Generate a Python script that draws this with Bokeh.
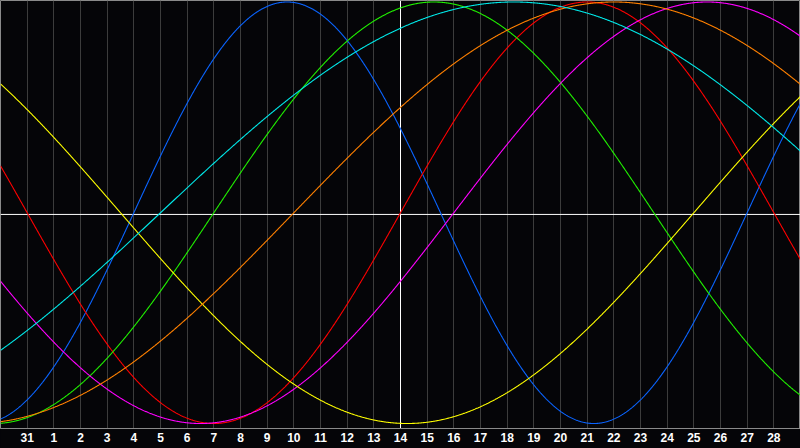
import numpy as np
from bokeh.plotting import figure
from bokeh.models import Range1d, FixedTicker, Span
from bokeh.embed import file_html
from bokeh.resources import INLINE

# Day labels along the bottom (positions 1..29 of a 30-day window)
day_labels = ["31", "1", "2", "3", "4", "5", "6", "7", "8", "9", "10", "11", "12", "13",
              "14", "15", "16", "17", "18", "19", "20", "21", "22", "23", "24", "25",
              "26", "27", "28"]
today_index = 15  # day 14 (white vertical line)

# Biorhythm cycles: period (days) and day index of upward zero crossing
cycle_names = ["Physical", "Emotional", "Intellectual", "Intuitive", "Aesthetic", "Awareness", "Spiritual"]
cycle_periods = [23, 28, 33, 38, 43, 48, 53]
cycle_zero_days = [5, 15, 8, 17, 26, 11, 6]
cycle_colors = ["#0a64ff", "#ff0000", "#20f000", "#ff00ff", "#ffff00", "#ff8000", "#00e8e8"]

n_days = len(day_labels) + 1
d = np.linspace(0, n_days, 1501)

p = figure(width=800, height=448,
           x_range=Range1d(0, n_days), y_range=Range1d(-1.0237, 1.0071),
           output_backend="svg", toolbar_location=None,
           min_border_left=0, min_border_right=0, min_border_top=0, min_border_bottom=20,
           background_fill_color="#050508", border_fill_color="#050508",
           outline_line_color="#8a8a8a", outline_line_width=1,
           y_axis_location=None)

ticks = list(range(1, n_days))
p.xaxis.ticker = FixedTicker(ticks=ticks)
p.xaxis.major_label_overrides = {t: lab for t, lab in zip(ticks, day_labels)}
p.xaxis.major_tick_line_color = None
p.xaxis.minor_tick_line_color = None
p.xaxis.major_tick_in = 0
p.xaxis.major_tick_out = 0
p.xaxis.axis_line_color = "#8a8a8a"
p.xaxis.major_label_text_color = "#ffffff"
p.xaxis.major_label_text_font = "Liberation Sans"
p.xaxis.major_label_text_font_style = "bold"
p.xaxis.major_label_text_font_size = "12px"
p.xaxis.major_label_standoff = 4

p.xgrid.ticker = FixedTicker(ticks=ticks)
p.xgrid.grid_line_color = "#3c3c3c"
p.xgrid.grid_line_width = 1
p.ygrid.visible = False

p.add_layout(Span(location=today_index, dimension="height", line_color="#ffffff",
                  line_width=1, level="underlay"))
p.add_layout(Span(location=-0.008, dimension="width", line_color="#ffffff",
                  line_width=1, level="underlay"))

for name, per, z, col in zip(cycle_names, cycle_periods, cycle_zero_days, cycle_colors):
    v = np.sin(2 * np.pi * (d - z) / per)
    p.line(d, v, line_color=col, line_width=1.1)

html = file_html(p, INLINE)
html = html.replace("<head>", "<head><style>html,body{margin:0;padding:0;overflow:hidden;background:#050508}</style>", 1)
open("out.html", "w").write(html)
